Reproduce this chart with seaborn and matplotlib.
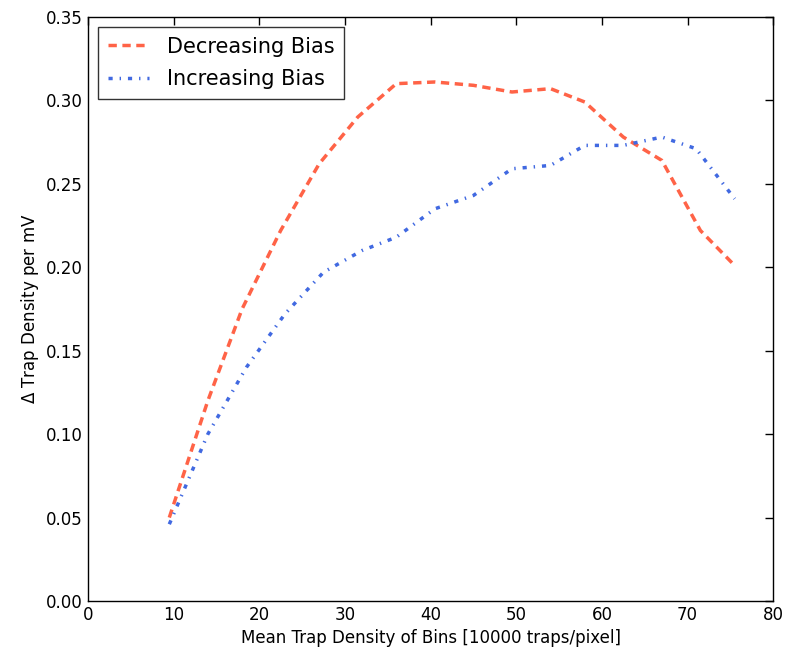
import pandas as pd
import matplotlib
matplotlib.use("Agg")
import matplotlib.pyplot as plt
import seaborn as sns

# Valores
dec_x = [9.5, 14, 18, 22.5, 27, 31.5, 36, 40.5, 45, 49.5, 54, 58, 62.5, 67, 71.5, 75.5]
dec_y = [0.050, 0.120, 0.175, 0.222, 0.262, 0.290, 0.310, 0.311, 0.309, 0.305, 0.307, 0.299, 0.278, 0.264, 0.222, 0.201]
inc_x = [9.5, 14, 18.5, 23, 27.5, 32, 36, 40.5, 45, 49.5, 54, 58, 62.5, 67, 71, 75.5]
inc_y = [0.046, 0.100, 0.140, 0.172, 0.197, 0.210, 0.218, 0.235, 0.243, 0.259, 0.261, 0.273, 0.273, 0.278, 0.271, 0.241]

sns.set_style("white")
plt.rcParams['font.family'] = ['DejaVu Sans']
plt.rcParams['text.color'] = 'black'
plt.rcParams['axes.labelcolor'] = 'black'
plt.rcParams['xtick.color'] = 'black'
plt.rcParams['ytick.color'] = 'black'
plt.rcParams['lines.scale_dashes'] = False

fig = plt.figure(figsize=(7.85, 6.5), dpi=100)
ax = fig.add_axes([0.112, 0.0754, 0.873, 0.8986])

sns.lineplot(x=dec_x, y=dec_y, ax=ax, color="#ff6347", linewidth=2.5,
             dashes=False, label="Decreasing Bias")
sns.lineplot(x=inc_x, y=inc_y, ax=ax, color="#4169e1", linewidth=2.5,
             dashes=False, label="Increasing Bias")
ax.lines[0].set_dashes((6, 4))
ax.lines[1].set_dashes((3, 5, 1, 5))

ax.set_xlim(0, 80)
ax.set_ylim(0, 0.35)
ax.set_xticks(range(0, 81, 10))
ax.set_yticks([i * 0.05 for i in range(8)])
ax.yaxis.set_major_formatter(matplotlib.ticker.FormatStrFormatter('%.2f'))
ax.tick_params(direction="in", top=True, right=True, length=6, width=1, labelsize=12,
               color="black", labelcolor="black")
for s in ax.spines.values():
    s.set_color("black")
    s.set_linewidth(1)

ax.set_xlabel("Mean Trap Density of Bins [10000 traps/pixel]", fontsize=12)
ax.set_ylabel(r"$\Delta$ Trap Density per mV", fontsize=12)

leg = ax.legend(loc="upper left", fontsize=15, frameon=True, fancybox=False,
                handlelength=2, handletextpad=0.85, borderpad=0.45, labelspacing=0.6,
                borderaxespad=0.5)
leg.get_frame().set_edgecolor("black")
leg.get_frame().set_linewidth(1)
for t in leg.get_texts():
    t.set_color("black")

plt.savefig("out.png", dpi=100)
